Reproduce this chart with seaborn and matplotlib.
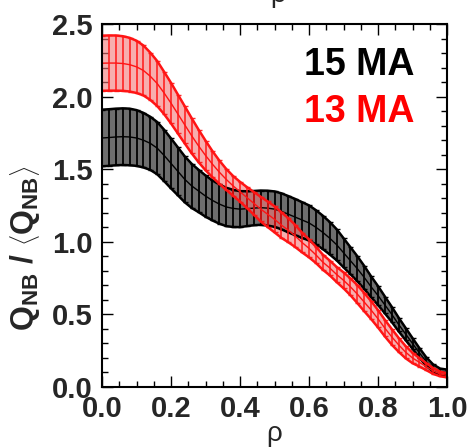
import numpy as np
import pandas as pd
import matplotlib
matplotlib.use("Agg")
import matplotlib.pyplot as plt
import seaborn as sns
from matplotlib.ticker import MultipleLocator, FormatStrFormatter

# ---------------- data ----------------
rho = np.linspace(0.0, 1.0, 51)

mean_15MA = [1.715, 1.718, 1.722, 1.724, 1.722, 1.715, 1.700, 1.678, 1.645, 1.595,
             1.540, 1.485, 1.430, 1.385, 1.350, 1.315, 1.285, 1.260, 1.240, 1.230,
             1.225, 1.228, 1.232, 1.235, 1.232, 1.225, 1.210, 1.190, 1.170, 1.150,
             1.130, 1.100, 1.065, 1.025, 0.980, 0.925, 0.870, 0.815, 0.755, 0.690,
             0.630, 0.565, 0.500, 0.430, 0.365, 0.300, 0.235, 0.175, 0.130, 0.105,
             0.100]
err_15MA = [0.195, 0.195, 0.195, 0.195, 0.195, 0.192, 0.188, 0.183, 0.180, 0.177,
            0.172, 0.165, 0.158, 0.152, 0.146, 0.142, 0.138, 0.135, 0.132, 0.128,
            0.124, 0.120, 0.118, 0.118, 0.120, 0.122, 0.124, 0.125, 0.125, 0.123,
            0.121, 0.118, 0.115, 0.112, 0.107, 0.100, 0.093, 0.086, 0.079, 0.072,
            0.065, 0.058, 0.052, 0.047, 0.042, 0.037, 0.033, 0.029, 0.025, 0.022,
            0.020]

mean_13MA = [2.230, 2.231, 2.231, 2.228, 2.220, 2.205, 2.180, 2.140, 2.090, 2.025,
             1.955, 1.880, 1.805, 1.730, 1.660, 1.595, 1.535, 1.480, 1.430, 1.385,
             1.345, 1.305, 1.265, 1.225, 1.190, 1.155, 1.115, 1.080, 1.040, 0.995,
             0.955, 0.910, 0.860, 0.820, 0.775, 0.735, 0.690, 0.640, 0.585, 0.530,
             0.470, 0.405, 0.345, 0.290, 0.240, 0.200, 0.170, 0.140, 0.110, 0.090,
             0.080]
err_13MA = [0.190, 0.190, 0.190, 0.188, 0.185, 0.180, 0.172, 0.163, 0.155, 0.146,
            0.140, 0.134, 0.128, 0.121, 0.112, 0.102, 0.090, 0.080, 0.072, 0.068,
            0.068, 0.072, 0.078, 0.085, 0.088, 0.090, 0.088, 0.083, 0.076, 0.068,
            0.062, 0.056, 0.052, 0.051, 0.052, 0.055, 0.058, 0.062, 0.063, 0.062,
            0.060, 0.057, 0.054, 0.048, 0.042, 0.036, 0.029, 0.024, 0.020, 0.016,
            0.014]

labels = ["15 MA", "13 MA"]
x_ticks = [0.0, 0.2, 0.4, 0.6, 0.8, 1.0]
y_ticks = [0.0, 0.5, 1.0, 1.5, 2.0, 2.5]

# ---------------- style ----------------
sns.set_style("ticks")
plt.rcParams["font.family"] = ["Liberation Sans Narrow", "Liberation Sans", "DejaVu Sans"]
plt.rcParams["mathtext.fontset"] = "custom"
plt.rcParams["mathtext.rm"] = "Liberation Sans:bold"
plt.rcParams["mathtext.bf"] = "Liberation Sans:bold"
plt.rcParams["mathtext.it"] = "Liberation Sans:bold"

W, H = 469, 448
fig = plt.figure(figsize=(W / 100, H / 100), dpi=100)
ax = fig.add_axes([102 / W, 61 / H, 345 / W, 363 / H])

styles = [
    dict(line="#000000", fill="#6e6e6e", fill_alpha=1.0, bar_alpha=1.0, bar_lw=1.3),
    dict(line="#ff1414", fill="#f27878", fill_alpha=0.6, bar_alpha=0.9, bar_lw=1.2),
]

for lab, m, e, st in zip(labels, [mean_15MA, mean_13MA], [err_15MA, err_13MA], styles):
    df = pd.DataFrame({"rho": rho, "mean": m, "err": e})
    df["lo"] = df["mean"] - df["err"]
    df["hi"] = df["mean"] + df["err"]
    ax.fill_between(df["rho"], df["lo"], df["hi"], color=st["fill"], lw=0,
                    alpha=st["fill_alpha"])
    ax.errorbar(df["rho"], df["mean"], yerr=df["err"], fmt="none",
                ecolor=st["line"], elinewidth=st["bar_lw"], capsize=1.8, capthick=1.0,
                alpha=st["bar_alpha"])
    sns.lineplot(data=df, x="rho", y="mean", color=st["line"], lw=1.0, ax=ax)
    sns.lineplot(data=df, x="rho", y="hi", color=st["line"], lw=1.8, ax=ax)
    sns.lineplot(data=df, x="rho", y="lo", color=st["line"], lw=1.8, ax=ax)

ax.set_xlim(0, 1)
ax.set_ylim(0, 2.5)
ax.set_xticks(x_ticks)
ax.set_yticks(y_ticks)
ax.xaxis.set_minor_locator(MultipleLocator(0.05))
ax.yaxis.set_minor_locator(MultipleLocator(0.1))
ax.xaxis.set_major_formatter(FormatStrFormatter("%.1f"))
ax.yaxis.set_major_formatter(FormatStrFormatter("%.1f"))
ax.tick_params(which="both", direction="in", top=True, right=True, width=1.0,
               color="black")
ax.tick_params(which="major", length=8)
ax.tick_params(which="minor", length=4)
ax.tick_params(axis="y", which="major", pad=7)
ax.tick_params(axis="x", which="major", pad=6)
for t in ax.get_xticklabels() + ax.get_yticklabels():
    t.set_fontsize(21)
    t.set_fontweight("bold")
for s in ax.spines.values():
    s.set_linewidth(1.5)
    s.set_color("black")

ax.set_xlabel("ρ", fontsize=20, fontweight="normal", family=["Liberation Sans", "DejaVu Sans"])
ax.xaxis.label.set_verticalalignment("baseline")
ax.xaxis.set_label_coords(0.5, (387 - 441) / 363)

ax.set_ylabel(r"$\mathbf{Q_{NB}}$ / $\left\langle\mathbf{Q_{NB}}\right\rangle$",
              fontsize=23, fontweight="bold", family=["Liberation Sans", "DejaVu Sans"])
ax.yaxis.set_label_coords((42 - 102) / 345, (387 - 248) / 363)

ax.text(0.907, (387 - 75) / 363, labels[0], transform=ax.transAxes, ha="right",
        va="baseline", fontsize=27, fontweight="bold", color="black",
        family=["Liberation Sans", "DejaVu Sans"])
ax.text(0.907, (387 - 122) / 363, labels[1], transform=ax.transAxes, ha="right",
        va="baseline", fontsize=27, fontweight="bold", color="#ff0000",
        family=["Liberation Sans", "DejaVu Sans"])

# clipped axis label of the panel above (only its lower part is visible)
fig.text(278 / W, (H - 2) / H, "ρ", fontsize=20, ha="center", va="baseline",
         family=["Liberation Sans", "DejaVu Sans"])

fig.savefig("out.png", dpi=100)
